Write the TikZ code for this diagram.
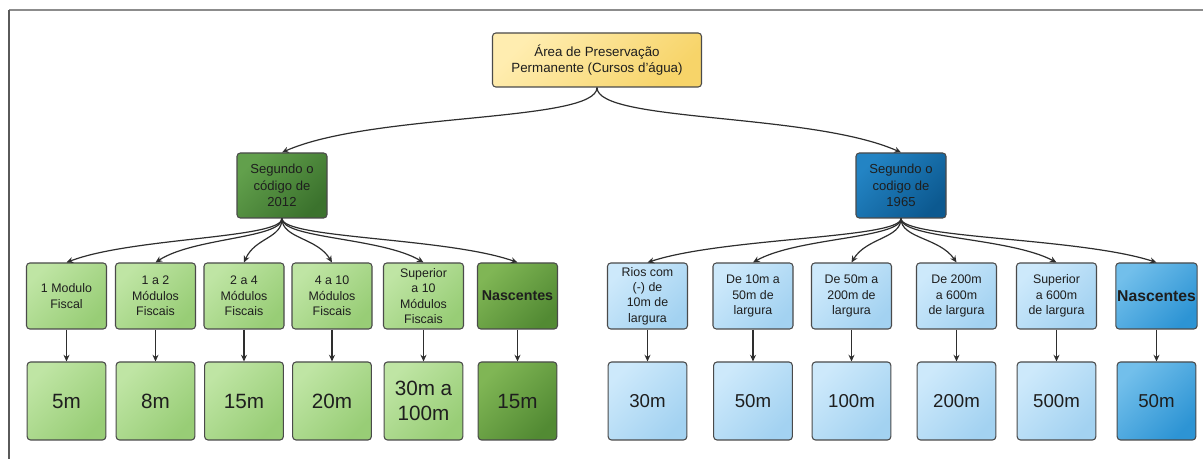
\documentclass[tikz,border=0pt]{standalone}
\usepackage{fontspec}
\setmainfont{Liberation Sans}
\usetikzlibrary{arrows.meta}
\definecolor{boxline}{HTML}{4A4A4A}
\definecolor{linec}{HTML}{2E2E2E}
\definecolor{textc}{HTML}{1E1E1E}
\definecolor{yA}{HTML}{FFEDB0}
\definecolor{yB}{HTML}{F7D469}
\definecolor{gmA}{HTML}{62A04C}
\definecolor{gmB}{HTML}{3B722D}
\definecolor{glA}{HTML}{BFE5A4}
\definecolor{glB}{HTML}{98CD76}
\definecolor{gdA}{HTML}{80B655}
\definecolor{gdB}{HTML}{528A33}
\definecolor{bmA}{HTML}{2384C4}
\definecolor{bmB}{HTML}{0C5990}
\definecolor{blA}{HTML}{CDE9FB}
\definecolor{blB}{HTML}{A3D2F1}
\definecolor{bdA}{HTML}{72BFEB}
\definecolor{bdB}{HTML}{2D94D4}
\definecolor{frameA}{HTML}{8C8C8C}
\definecolor{frameB}{HTML}{5A5A5A}
\begin{document}
\begin{tikzpicture}[x=0.75pt,y=-0.75pt,
  box/.style={draw=boxline, line width=0.8pt, rounded corners=2.5pt, align=center, inner sep=1pt, text=textc},
  topbox/.style={box, top color=yA, bottom color=yB, shading angle=45, minimum width=156.75pt, minimum height=40.5pt, font=\fontsize{10}{12}\selectfont},
  gmid/.style={box, top color=gmA, bottom color=gmB, shading angle=45, minimum width=67.5pt, minimum height=48.75pt, font=\fontsize{9.8}{12.5}\selectfont},
  bmid/.style={box, top color=bmA, bottom color=bmB, shading angle=45, minimum width=67.5pt, minimum height=48.75pt, font=\fontsize{9.8}{12.5}\selectfont},
  rowone/.style={box, minimum width=60pt, minimum height=49.5pt, font=\fontsize{9.3}{11.6}\selectfont},
  rowtwo/.style={box, minimum width=59pt, minimum height=58.5pt},
  gl/.style={top color=glA, bottom color=glB, shading angle=45},
  gd/.style={top color=gdA, bottom color=gdB, shading angle=45},
  bl/.style={top color=blA, bottom color=blB, shading angle=45},
  bd/.style={top color=bdA, bottom color=bdB, shading angle=45},
  gnum/.style={font=\fontsize{15.5}{19}\selectfont},
  bnum/.style={font=\fontsize{14}{18}\selectfont},
  conn/.style={draw=linec, line width=0.9pt, -{Stealth[length=5pt,width=4.5pt]}}
]
\useasboundingbox (0,0) rectangle (1203,459);
% frame
\draw[frameA, line width=1.1pt] (9,10) -- (1203,10);
\draw[frameB, line width=0.9pt] (9,10) -- (9,459);

% top
\node[topbox] (top) at (597,60) {Área de Preservação\\Permanente (Cursos d'água)};
% mids
\node[gmid] (gm) at (282,185.5) {Segundo o\\código de\\2012};
\node[bmid] (bm) at (901,185.5) {Segundo o\\codigo de\\1965};

% green row 1
\node[rowone,gl] (g1) at (66.5,296) {1 Modulo\\Fiscal};
\node[rowone,gl] (g2) at (155.5,296) {1 a 2\\Módulos\\Fiscais};
\node[rowone,gl] (g3) at (244,296) {2 a 4\\Módulos\\Fiscais};
\node[rowone,gl] (g4) at (332,296) {4 a 10\\Módulos\\Fiscais};
\node[rowone,gl] (g5) at (423.5,296) {Superior\\a 10\\Módulos\\Fiscais};
\node[rowone,gd,font=\fontsize{10.7}{13}\selectfont\bfseries] (g6) at (517.5,296) {Nascentes};
% blue row 1
\node[rowone,bl] (b1) at (647.5,296) {Rios com\\(-) de\\10m de\\largura};
\node[rowone,bl] (b2) at (753,296) {De 10m a\\50m de\\largura};
\node[rowone,bl] (b3) at (851.5,296) {De 50m a\\200m de\\largura};
\node[rowone,bl] (b4) at (956.5,296) {De 200m\\a 600m\\de largura};
\node[rowone,bl] (b5) at (1056.5,296) {Superior\\a 600m\\de largura};
\node[rowone,bd,font=\fontsize{11.8}{14}\selectfont\bfseries] (b6) at (1156.5,296) {Nascentes};

% green row 2
\node[rowtwo,gl,gnum] (gv1) at (66.5,401) {5m};
\node[rowtwo,gl,gnum] (gv2) at (155.5,401) {8m};
\node[rowtwo,gl,gnum] (gv3) at (244,401) {15m};
\node[rowtwo,gl,gnum] (gv4) at (332,401) {20m};
\node[rowtwo,gl,gnum] (gv5) at (423.5,401) {30m a\\100m};
\node[rowtwo,gd,gnum] (gv6) at (517.5,401) {15m};
% blue row 2
\node[rowtwo,bl,bnum] (bv1) at (647.5,401) {30m};
\node[rowtwo,bl,bnum] (bv2) at (753,401) {50m};
\node[rowtwo,bl,bnum] (bv3) at (851.5,401) {100m};
\node[rowtwo,bl,bnum] (bv4) at (956.5,401) {200m};
\node[rowtwo,bl,bnum] (bv5) at (1056.5,401) {500m};
\node[rowtwo,bd,bnum] (bv6) at (1156.5,401) {50m};

% top to mids
\draw[conn] (top.south) .. controls +(0,35) and +(90,-40) .. (gm.north);
\draw[conn] (top.south) .. controls +(0,35) and +(-90,-40) .. (bm.north);

% mids to row 1
\foreach \c/\d in {g1/65, g2/38, g3/11, g4/-15, g5/-42, g6/-70}
  \draw[conn] (gm.south) .. controls +(0,20) and +(\d,-25) .. (\c.north);
\foreach \c/\d in {b1/76, b2/44, b3/15, b4/-17, b5/-47, b6/-77}
  \draw[conn] (bm.south) .. controls +(0,20) and +(\d,-25) .. (\c.north);

% row 1 to row 2
\foreach \a/\b in {g1/gv1, g2/gv2, g3/gv3, g4/gv4, g5/gv5, g6/gv6, b1/bv1, b2/bv2, b3/bv3, b4/bv4, b5/bv5, b6/bv6}
  \draw[conn] (\a.south) -- (\b.north);
\end{tikzpicture}
\end{document}
